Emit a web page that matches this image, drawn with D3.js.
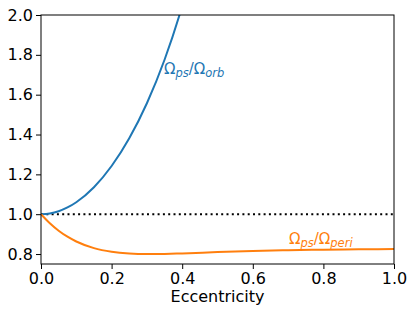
<!DOCTYPE html>
<html>
<head>
<meta charset="utf-8">
<title>pseudo-synchronous rotation</title>
<script src="https://cdn.jsdelivr.net/npm/d3@7"></script>
<style>
body { margin: 0; background: #fff; }
svg text { font-family: "DejaVu Sans", sans-serif; }
</style>
</head>
<body>
<svg id="chart" width="415" height="311"></svg>
<script>
// values
var eccOrb   = [0, 0.025, 0.05, 0.075, 0.1, 0.15, 0.2, 0.25, 0.3, 0.35, 0.4, 0.42];
var ratioOrb = [1, 1.0038, 1.015, 1.0338, 1.0601, 1.1354, 1.2419, 1.3813, 1.5571, 1.7752, 2.0451, 2.1705];
var eccPeri   = [0, 0.025, 0.05, 0.075, 0.1, 0.15, 0.2, 0.25, 0.3, 0.35, 0.4, 0.5, 0.6, 0.7, 0.8, 0.9, 1.0];
var ratioPeri = [1, 0.9545, 0.9172, 0.887, 0.863, 0.8297, 0.8112, 0.8025, 0.7998, 0.8007, 0.8033, 0.8098, 0.8155, 0.8194, 0.822, 0.8238, 0.825];
var xTicks = [0, 0.2, 0.4, 0.6, 0.8, 1.0];
var yTicks = [0.8, 1.0, 1.2, 1.4, 1.6, 1.8, 2.0];

var svg = d3.select("#chart");
var m = {left: 41, right: 394, top: 15, bottom: 264};

var x = d3.scaleLinear().domain([0, 1]).range([m.left, m.right]);
var y = d3.scaleLinear().domain([0.75, 2.0]).range([m.bottom, m.top]);

svg.append("defs").append("clipPath").attr("id", "clip")
  .append("rect")
    .attr("x", m.left).attr("y", m.top)
    .attr("width", m.right - m.left).attr("height", m.bottom - m.top);

var plot = svg.append("g").attr("clip-path", "url(#clip)");

// reference line at 1
plot.append("line")
    .attr("x1", x(0)).attr("x2", x(1))
    .attr("y1", y(1)).attr("y2", y(1))
    .attr("stroke", "#000")
    .attr("stroke-width", 2)
    .attr("stroke-dasharray", "2,3.3");

var line = d3.line()
    .x(function(d) { return x(d[0]); })
    .y(function(d) { return y(d[1]); })
    .curve(d3.curveMonotoneX);

plot.append("path")
    .datum(d3.zip(eccOrb, ratioOrb))
    .attr("d", line)
    .attr("fill", "none")
    .attr("stroke", "#1f77b4")
    .attr("stroke-width", 2);

plot.append("path")
    .datum(d3.zip(eccPeri, ratioPeri))
    .attr("d", line)
    .attr("fill", "none")
    .attr("stroke", "#ff7f0e")
    .attr("stroke-width", 2);

// axes
var xAxis = svg.append("g")
    .attr("transform", "translate(0," + m.bottom + ")")
    .call(d3.axisBottom(x).tickValues(xTicks).tickFormat(d3.format(".1f")).tickSizeOuter(0).tickSize(5).tickPadding(4));
var yAxis = svg.append("g")
    .attr("transform", "translate(" + m.left + ",0)")
    .call(d3.axisLeft(y).tickValues(yTicks).tickFormat(d3.format(".1f")).tickSizeOuter(0).tickSize(5).tickPadding(3));

[xAxis, yAxis].forEach(function(a) {
  a.select(".domain").remove();
  a.selectAll("text").attr("font-size", 16).attr("fill", "#000").attr("font-family", "DejaVu Sans");
  a.selectAll("line").attr("stroke", "#000");
});

// frame
svg.append("rect")
    .attr("x", m.left).attr("y", m.top)
    .attr("width", m.right - m.left).attr("height", m.bottom - m.top)
    .attr("fill", "none").attr("stroke", "#000").attr("stroke-width", 1);

svg.append("text")
    .attr("x", (m.left + m.right) / 2).attr("y", 302)
    .attr("text-anchor", "middle")
    .attr("font-size", 16)
    .text("Eccentricity");

// curve labels
function ratioLabel(xp, yp, sub2, color) {
  var t = svg.append("text").attr("x", xp).attr("y", yp).attr("fill", color).attr("font-size", 15);
  t.append("tspan").text("\u03A9");
  t.append("tspan").attr("dy", 3).attr("font-size", 11.5).attr("font-style", "italic").text("ps");
  t.append("tspan").attr("dy", -3).text("/\u03A9");
  t.append("tspan").attr("dy", 3).attr("font-size", 11.5).attr("font-style", "italic").text(sub2);
}
ratioLabel(164, 74, "orb", "#1f77b4");
ratioLabel(289, 244, "peri", "#ff7f0e");
</script>
</body>
</html>
